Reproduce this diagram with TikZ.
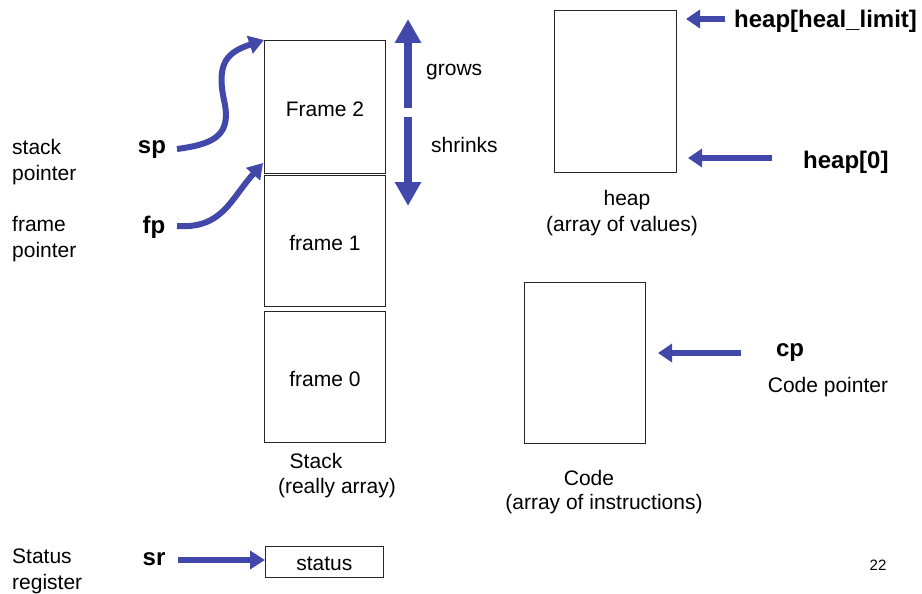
\documentclass[tikz,border=0pt]{standalone}
\usepackage{fontspec}
\setmainfont{Liberation Sans}
\usetikzlibrary{arrows.meta}
\definecolor{ptr}{RGB}{66,72,170}
\begin{document}
\begin{tikzpicture}[x=1pt,y=-1pt,
  lbl/.style={font=\fontsize{21}{26}\selectfont, inner sep=0, align=left},
  clbl/.style={font=\fontsize{21}{26}\selectfont, inner sep=0, align=center},
  bold/.style={font=\fontsize{24}{26}\selectfont\bfseries, inner sep=0},
  box/.style={draw=black!85, line width=0.8pt, inner sep=0, anchor=north west, font=\fontsize{21}{26}\selectfont, text height=19pt, text depth=0pt},
  ptrarrow/.style={draw=ptr, line width=6pt, -{Triangle[length=15pt,width=18pt]}},
  bigarrow/.style={draw=ptr, line width=8pt, -{Triangle[length=24pt,width=25pt]}},
]
\useasboundingbox (0,0) rectangle (922,594);

% stack frames
\node[box, minimum width=121pt, minimum height=133pt] (f2) at (264,40) {Frame 2};
\node[box, minimum width=121pt, minimum height=131pt] (f1) at (264,175) {frame 1};
\node[box, minimum width=121pt, minimum height=131pt] (f0) at (264,311) {frame 0};
\node[clbl] (stk) at (316,461) {Stack};
\node[clbl] (stk2) at (337,488) {(really array)};

% grows / shrinks
\coordinate (g0) at (408,108);
\coordinate (g1) at (408,19);
\coordinate (s0) at (408,117);
\coordinate (s1) at (408,206);
\draw[bigarrow] (g0) -- (g1);
\draw[bigarrow] (s0) -- (s1);
\node[lbl, anchor=west] (grows) at (426,72) {grows};
\node[lbl, anchor=west] (shr) at (431,145) {shrinks};

% left labels
\node[lbl, anchor=west] (spl) at (12,162) {stack\\pointer};
\node[lbl, anchor=west] (fpl) at (12,239) {frame\\pointer};
\node[lbl, anchor=west] (srl) at (12,571) {Status\\register};
\node[bold] (sp) at (152,150) {sp};
\node[bold] (fp) at (154,227) {fp};
\node[bold] (sr) at (154,559) {sr};

% pointer curves
\coordinate (fptip) at (263,163);
\draw[ptrarrow] (177,149) .. controls (215,144) and (232,135) .. (224,100)
   .. controls (216,62) and (228,52) .. (f2.north west);
\draw[ptrarrow] (177,226) .. controls (222,229) and (230,200) .. (fptip);

% status
\node[box, minimum width=118pt, minimum height=31pt, text height=17pt] (st) at (265,546) {status};
\coordinate (srs) at (178,560);
\draw[ptrarrow] (srs) -- (st.west |- srs);

% heap
\node[box, minimum width=122pt, minimum height=162pt] (heap) at (554,10) {};
\node[clbl] (hp1) at (627,200) {heap};
\node[clbl] (hp2) at (622,226) {(array of values)};
\node[bold, anchor=west] (hl) at (734,21) {heap[heal\_limit]};
\node[bold, anchor=west] (h0) at (803,162) {heap[0]};
\coordinate (hlt) at (686,19);
\coordinate (hls) at (725,19);
\coordinate (h0t) at (688,158);
\coordinate (h0s) at (772,158);
\draw[ptrarrow, line width=6.5pt, -{Triangle[length=14pt,width=18pt]}] (hls) -- (hlt);
\draw[ptrarrow, line width=6.5pt, -{Triangle[length=14pt,width=18pt]}] (h0s) -- (h0t);

% code
\node[box, minimum width=121pt, minimum height=161pt] (code) at (524,282) {};
\node[clbl] (c1) at (589,478) {Code};
\node[clbl] (c2) at (604,504) {(array of instructions)};
\node[bold] (cp) at (790,353) {cp};
\node[lbl] (cpl) at (828,387) {Code pointer};
\coordinate (cps) at (741,353);
\coordinate (cpt) at (658,353);
\draw[ptrarrow, line width=6.5pt, -{Triangle[length=14pt,width=18pt]}] (cps) -- (cpt);

\node[font=\fontsize{15}{18}\selectfont, inner sep=0] (pg) at (878,565) {22};
\end{tikzpicture}
\end{document}
